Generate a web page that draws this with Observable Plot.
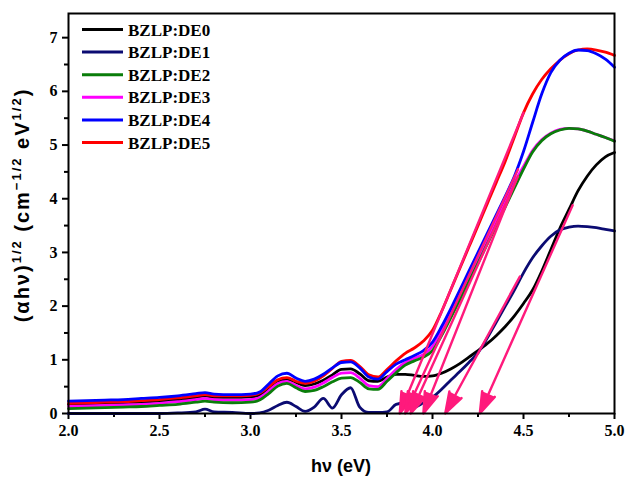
<!DOCTYPE html>
<html>
<head>
<meta charset="utf-8">
<script src="https://cdn.jsdelivr.net/npm/d3@7"></script>
<script src="https://cdn.jsdelivr.net/npm/@observablehq/plot@0.6"></script>
<style>
  html, body { margin: 0; padding: 0; background: #fff; }
  #chart svg { display: block; }
</style>
</head>
<body>
<div id="chart"></div>
<script>
// ---- data ----
const seriesNames = ["BZLP:DE0", "BZLP:DE1", "BZLP:DE2", "BZLP:DE3", "BZLP:DE4", "BZLP:DE5"];
const seriesColors = ["#000000", "#0b0b72", "#0a7d0a", "#ff00ff", "#0000ff", "#ff0000"];

const xs = [2.0, 2.1, 2.2, 2.3, 2.4, 2.5, 2.6, 2.7, 2.75, 2.8, 2.9, 3.0, 3.05, 3.1, 3.15, 3.2, 3.25, 3.3, 3.35, 3.4, 3.45, 3.5, 3.55, 3.6, 3.65, 3.7, 3.75, 3.8, 3.85, 3.9, 3.95, 4.0, 4.05, 4.1, 4.15, 4.2, 4.25, 4.3, 4.35, 4.4, 4.45, 4.5, 4.55, 4.6, 4.65, 4.7, 4.75, 4.8, 4.85, 4.9, 4.95, 5.0];

const de0 = [0.17, 0.18, 0.19, 0.2, 0.21, 0.23, 0.26, 0.3, 0.33, 0.3, 0.3, 0.31, 0.34, 0.45, 0.58, 0.64, 0.58, 0.52, 0.55, 0.62, 0.72, 0.82, 0.83, 0.74, 0.61, 0.6, 0.68, 0.73, 0.73, 0.71, 0.69, 0.7, 0.75, 0.83, 0.93, 1.05, 1.17, 1.3, 1.45, 1.62, 1.82, 2.05, 2.3, 2.65, 3.05, 3.45, 3.8, 4.15, 4.42, 4.63, 4.78, 4.86];
const de1 = [0.0, 0.0, 0.0, 0.0, 0.0, 0.0, 0.01, 0.03, 0.08, 0.03, 0.02, 0.0, 0.01, 0.06, 0.15, 0.21, 0.13, 0.04, 0.12, 0.28, 0.1, 0.35, 0.48, 0.12, 0.02, 0.02, 0.03, 0.17, 0.2, 0.12, 0.2, 0.3, 0.45, 0.62, 0.78, 0.95, 1.13, 1.4, 1.7, 2.0, 2.3, 2.62, 2.9, 3.12, 3.3, 3.42, 3.47, 3.49, 3.48, 3.46, 3.43, 3.4];
const de2 = [0.09, 0.1, 0.11, 0.12, 0.13, 0.15, 0.17, 0.21, 0.23, 0.21, 0.2, 0.21, 0.25, 0.37, 0.51, 0.56, 0.48, 0.41, 0.43, 0.5, 0.59, 0.66, 0.67, 0.58, 0.46, 0.45, 0.6, 0.76, 0.9, 0.98, 1.05, 1.17, 1.45, 1.78, 2.12, 2.46, 2.8, 3.15, 3.5, 3.85, 4.2, 4.55, 4.87, 5.08, 5.21, 5.28, 5.31, 5.3, 5.26, 5.2, 5.14, 5.07];
const de3 = [0.13, 0.14, 0.15, 0.16, 0.17, 0.19, 0.22, 0.26, 0.28, 0.26, 0.25, 0.26, 0.3, 0.42, 0.56, 0.6, 0.52, 0.46, 0.49, 0.57, 0.67, 0.75, 0.76, 0.66, 0.52, 0.5, 0.65, 0.82, 0.95, 1.03, 1.1, 1.25, 1.55, 1.88, 2.22, 2.56, 2.9, 3.25, 3.6, 3.95, 4.3, 4.6, 4.9, 5.1, 5.22, 5.29, 5.31, 5.3, 5.26, 5.2, 5.14, 5.08];
const de4 = [0.23, 0.24, 0.25, 0.26, 0.28, 0.3, 0.33, 0.37, 0.39, 0.36, 0.35, 0.36, 0.4, 0.55, 0.7, 0.75, 0.66, 0.6, 0.64, 0.73, 0.85, 0.95, 0.96, 0.85, 0.68, 0.64, 0.78, 0.92, 1.0, 1.08, 1.17, 1.33, 1.62, 1.95, 2.3, 2.65, 3.0, 3.35, 3.7, 4.05, 4.42, 4.88, 5.42, 5.95, 6.35, 6.58, 6.71, 6.77, 6.76, 6.7, 6.6, 6.45];
const de5 = [0.19, 0.2, 0.21, 0.22, 0.24, 0.26, 0.29, 0.33, 0.35, 0.33, 0.33, 0.34, 0.38, 0.5, 0.63, 0.67, 0.6, 0.56, 0.6, 0.7, 0.84, 0.97, 0.99, 0.88, 0.72, 0.68, 0.82, 0.98, 1.12, 1.22, 1.35, 1.55, 1.9, 2.3, 2.7, 3.1, 3.5, 3.9, 4.3, 4.7, 5.15, 5.6, 5.95, 6.22, 6.42, 6.58, 6.7, 6.77, 6.79, 6.77, 6.73, 6.67];

// tangent (Tauc) extrapolation arrows: start point on curve -> x-intercept
const arrowSeries = ["BZLP:DE5", "BZLP:DE4", "BZLP:DE3", "BZLP:DE2", "BZLP:DE1", "BZLP:DE0"];
const arrowX1 = [4.5, 4.47, 4.47, 4.46, 4.48, 4.77];
const arrowY1 = [5.6, 4.55, 4.42, 4.35, 2.55, 3.88];
const arrowX2 = [3.82, 3.85, 3.88, 3.95, 4.07, 4.26];
const arrowY2 = [0, 0, 0, 0, 0, 0];

const xTicks = [2.0, 2.5, 3.0, 3.5, 4.0, 4.5, 5.0];
const xMinorTicks = [2.25, 2.75, 3.25, 3.75, 4.25, 4.75];
const yTicks = [0, 1, 2, 3, 4, 5, 6, 7];
const yMinorTicks = [0.5, 1.5, 2.5, 3.5, 4.5, 5.5, 6.5];
const xDomain = [2, 5];
const yDomain = [0, 7.45];

// ---- build ----
const values = [de0, de1, de2, de3, de4, de5];
const drawOrder = [0, 1, 3, 2, 5, 4];
const rows = drawOrder.flatMap(i => xs.map((x, j) => ({series: seriesNames[i], order: drawOrder.indexOf(i), x, y: values[i][j]})));
const arrows = arrowSeries.map((s, i) => ({series: s, x1: arrowX1[i], y1: arrowY1[i], x2: arrowX2[i], y2: arrowY2[i]}));

const pink = "#ff1a7c";
const serif = "'Liberation Serif', 'Times New Roman', serif";
const sans = "'Liberation Sans', Arial, sans-serif";

const chart = Plot.plot({
  width: 627,
  height: 479,
  marginLeft: 68,
  marginRight: 13,
  marginTop: 13,
  marginBottom: 66,
  style: {fontFamily: serif, fontWeight: "bold", fontSize: "16px", color: "black", background: "white"},
  x: {domain: xDomain},
  y: {domain: yDomain},
  color: {domain: seriesNames, range: seriesColors},
  marks: [
    Plot.axisX({ticks: xTicks, tickSize: 6, tickPadding: 5, strokeWidth: 2, tickFormat: d => d.toFixed(1), label: null, fontSize: 16, fontWeight: "bold"}),
    Plot.axisX({ticks: xMinorTicks, tickSize: 4, strokeWidth: 2, tickFormat: () => "", label: null}),
    Plot.axisY({ticks: yTicks, tickSize: 6, tickPadding: 5, strokeWidth: 2, tickFormat: d => String(d), label: null, fontSize: 16, fontWeight: "bold"}),
    Plot.axisY({ticks: yMinorTicks, tickSize: 4, strokeWidth: 2, tickFormat: () => "", label: null}),
    Plot.line(rows, {x: "x", y: "y", z: "series", stroke: "series", strokeWidth: 2.8, curve: "monotone-x", sort: {channel: "order"}}),
    Plot.arrow(arrows, {x1: "x1", y1: "y1", x2: "x2", y2: "y2", stroke: pink, fill: pink, strokeWidth: 2.4, headLength: 14, headAngle: 36}),
    Plot.frame({stroke: "black", strokeWidth: 2})
  ]
});

document.getElementById("chart").appendChild(chart);

// ---- legend and axis titles ----
const svg = d3.select(chart);
const lg = svg.append("g");
seriesNames.forEach((name, i) => {
  const y = 29.5 + i * 22.6;
  lg.append("line").attr("x1", 82).attr("x2", 123).attr("y1", y).attr("y2", y)
    .attr("stroke", seriesColors[i]).attr("stroke-width", 3);
  lg.append("text").attr("x", 128).attr("y", y + 6).attr("text-anchor", "start")
    .attr("font-family", serif).attr("font-weight", "bold").attr("font-size", 17)
    .attr("fill", "black").text(name);
});

svg.append("text").attr("x", 341).attr("y", 472).attr("text-anchor", "middle")
  .attr("font-family", sans).attr("font-weight", "bold").attr("font-size", 18)
  .attr("fill", "black").text("hν (eV)");

const yl = svg.append("text").attr("transform", "translate(29,205) rotate(-90)")
  .attr("text-anchor", "middle").attr("font-family", sans).attr("font-weight", "bold")
  .attr("font-size", 20).attr("letter-spacing", 2).attr("fill", "black");
yl.append("tspan").text("(αhν)");
yl.append("tspan").attr("font-size", 13).attr("dy", -8).text("1/2");
yl.append("tspan").attr("dy", 8).text(" (cm");
yl.append("tspan").attr("font-size", 13).attr("dy", -8).text("−1/2");
yl.append("tspan").attr("dy", 8).text(" eV");
yl.append("tspan").attr("font-size", 13).attr("dy", -8).text("1/2");
yl.append("tspan").attr("dy", 8).text(")");
</script>
</body>
</html>
